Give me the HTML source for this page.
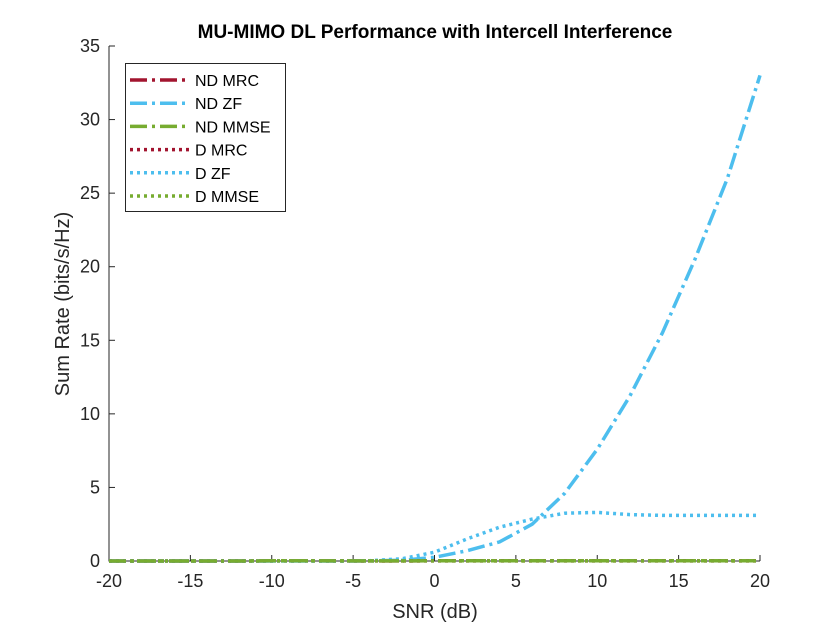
<!DOCTYPE html>
<html><head><meta charset="utf-8"><style>
html,body{margin:0;padding:0;background:#fff;}
svg{display:block;font-family:"Liberation Sans",Arial,sans-serif;}
</style></head><body>
<svg id="chart" width="840" height="630">
<rect width="840" height="630" fill="#fff"/>
<text x="435" y="38" text-anchor="middle" font-weight="bold" font-size="19" fill="#000">MU-MIMO DL Performance with Intercell Interference</text>
<text x="435" y="618" text-anchor="middle" font-size="20" fill="#262626">SNR (dB)</text>
<text transform="translate(69,304) rotate(-90)" text-anchor="middle" font-size="20" fill="#262626">Sum Rate (bits/s/Hz)</text>
<g id="axes"></g>
<g id="series"></g>
<g id="legend"></g>
</svg>
<script>
const snr=[-20,-18,-16,-14,-12,-10,-8,-6,-4,-2,0,2,4,6,8,10,12,14,16,18,20];
const ndMrc=[0,0,0,0,0,0.02,0.02,0.01,0.01,0.01,0.02,0.02,0.02,0.02,0.02,0.02,0.02,0.02,0.02,0.02,0.02];
const ndZf=[0,0,0,0,0,0,0,0,0.01,0.05,0.25,0.7,1.3,2.5,4.6,7.6,11.2,15.5,20.5,26,33];
const ndMmse=[0,0,0,0,0,0.02,0.02,0.01,0.01,0.01,0.02,0.02,0.02,0.02,0.02,0.02,0.02,0.02,0.02,0.02,0.02];
const dMrc=[0,0,0,0,0,0.01,0.01,0.01,0.01,0.01,0.01,0.01,0.01,0.01,0.01,0.01,0.01,0.01,0.01,0.01,0.01];
const dZf=[0,0,0,0,0,0,0,0,0.02,0.15,0.6,1.5,2.3,2.85,3.25,3.3,3.15,3.1,3.1,3.1,3.1];
const dMmse=[0,0,0,0,0,0.01,0.01,0.01,0.01,0.01,0.01,0.01,0.01,0.01,0.01,0.01,0.01,0.01,0.01,0.01,0.01];
const xTicks=[-20,-15,-10,-5,0,5,10,15,20];
const yTicks=[0,5,10,15,20,25,30,35];
const L=109,R=760,T=46,B=561;
const xs=v=>L+(v+20)/40*(R-L);
const ys=v=>B-v/35*(B-T);
const NS="http://www.w3.org/2000/svg";
function mk(tag,attrs,parent){const e=document.createElementNS(NS,tag);for(const k in attrs)e.setAttribute(k,attrs[k]);parent.appendChild(e);return e;}
const axes=document.getElementById('axes');
const box=mk('path',{d:`M${L},${T}V${B}H${R}`,fill:'none',stroke:'#262626','stroke-width':1},axes);


xTicks.forEach(t=>{
 const ln=mk('line',{x1:xs(t),x2:xs(t),y1:B,y2:B-6,stroke:'#262626'},axes);
 
 
 const tx=mk('text',{x:xs(t),y:B+26,'text-anchor':'middle','font-size':18,fill:'#262626'},axes);
 tx.textContent=t;
 
 
});
yTicks.forEach(t=>{
 const ln=mk('line',{x1:L,x2:L+6,y1:ys(t),y2:ys(t),stroke:'#262626'},axes);
 
 
 const tx=mk('text',{x:L-9,y:ys(t)+6,'text-anchor':'end','font-size':18,fill:'#262626'},axes);
 tx.textContent=t;
 
 
});
const RED='#A2142F',BLUE='#4DBEEE',GREEN='#77AC30';
const DASHDOT='17,5,3,5',DOT='3,4';
const series=[
 {name:'ND MRC',data:ndMrc,c:RED,d:DASHDOT,id:'nd-mrc'},
 {name:'ND ZF',data:ndZf,c:BLUE,d:DASHDOT,id:'nd-zf'},
 {name:'ND MMSE',data:ndMmse,c:GREEN,d:DASHDOT,id:'nd-mmse'},
 {name:'D MRC',data:dMrc,c:RED,d:DOT,id:'d-mrc'},
 {name:'D ZF',data:dZf,c:BLUE,d:DOT,id:'d-zf'},
 {name:'D MMSE',data:dMmse,c:GREEN,d:DOT,id:'d-mmse'}
];
const sg=document.getElementById('series');
series.forEach(s=>{
 const pts=s.data.map((v,i)=>xs(snr[i]).toFixed(1)+','+ys(v).toFixed(1)).join(' ');
 const p=mk('polyline',{points:pts,fill:'none',stroke:s.c,'stroke-width':3.5,'stroke-dasharray':s.d},sg);
 
 
});
const lg=document.getElementById('legend');
const lb=mk('rect',{x:125.5,y:63.5,width:160,height:148,fill:'#fff',stroke:'#262626'},lg);


series.forEach((s,i)=>{
 const y=80+i*23.2;
 const ln=mk('line',{x1:130,x2:190,y1:y,y2:y,stroke:s.c,'stroke-width':3.5,'stroke-dasharray':s.d},lg);
 
 
 const tx=mk('text',{x:195,y:y+6,'font-size':16,fill:'#000'},lg);
 tx.textContent=s.name;
 
 
});
</script>
</body></html>
